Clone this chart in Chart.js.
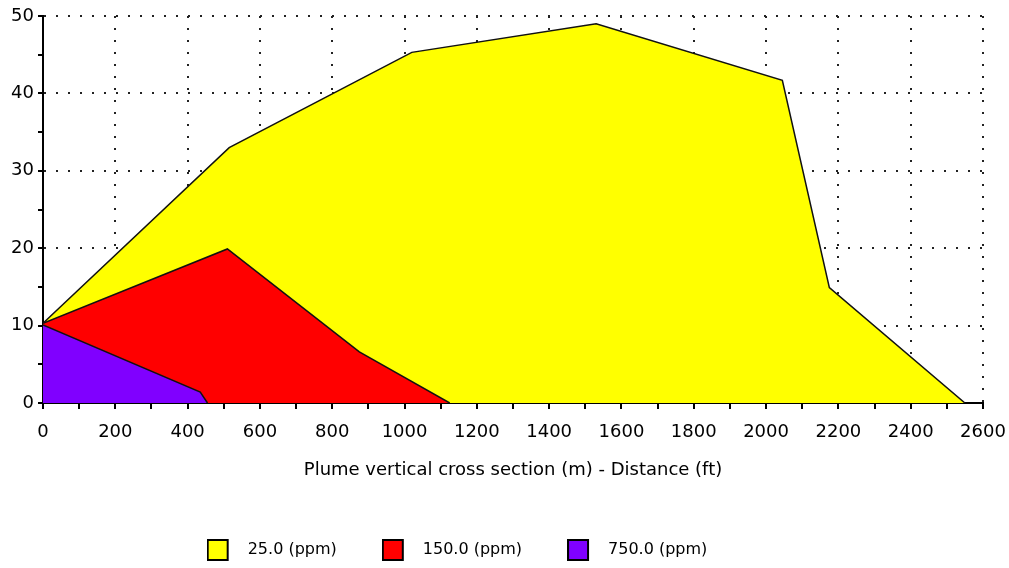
<!DOCTYPE html>
<html>
<head>
<meta charset="utf-8">
<title>Plume vertical cross section</title>
<script src="https://cdn.jsdelivr.net/npm/chart.js@4"></script>
<style>
  html, body { margin: 0; padding: 0; background: #fff; }
  #wrap { width: 1009px; height: 568px; }
</style>
</head>
<body>
<div id="wrap"><canvas id="myChart" width="1009" height="568"></canvas></div>
<script>
// concentration levels
const seriesNames = ["25.0 (ppm)", "150.0 (ppm)", "750.0 (ppm)"];
const seriesColors = ["#ffff00", "#ff0000", "#8000ff"];

// distance (ft) and height (m) of each contour outline
const dist25 = [0, 515, 1020, 1530, 2045, 2175, 2550];
const height25 = [10.3, 33.0, 45.3, 49.0, 41.7, 14.9, 0];

const dist150 = [0, 510, 875, 1125];
const height150 = [10.3, 19.9, 6.6, 0];

const dist750 = [0, 435, 455];
const height750 = [10.1, 1.4, 0];

const xTicks = [0, 2600, 100];
const yTicks = [0, 50, 5];

function toPoints(xs, ys) {
  return xs.map((x, i) => ({ x: x, y: ys[i] }));
}

function swatch(color) {
  const c = document.createElement("canvas");
  c.width = 33;
  c.height = 22;
  const g = c.getContext("2d");
  g.fillStyle = color;
  g.fillRect(1, 1, 20, 20);
  g.strokeStyle = "#000";
  g.lineWidth = 2;
  g.strokeRect(1, 1, 20, 20);
  return c;
}

function contour(i, xs, ys) {
  return {
    label: seriesNames[i],
    data: toPoints(xs, ys),
    backgroundColor: seriesColors[i],
    borderColor: "#111",
    borderWidth: 1.5,
    pointRadius: 0,
    tension: 0,
    fill: "origin"
  };
}

// the legend sits a bit left of centre in the original
const legendShift = {
  id: "legendShift",
  afterLayout(chart) {
    chart.legend.left -= 56;
    chart.legend.right -= 56;
  }
};

Chart.defaults.font.family = "'DejaVu Sans', sans-serif";
Chart.defaults.color = "#000";

// purple first so it is painted on top
const datasets = [
  contour(2, dist750, height750),
  contour(1, dist150, height150),
  contour(0, dist25, height25)
];

const dotted = "#222";

new Chart(document.getElementById("myChart"), {
  type: "line",
  data: { datasets: datasets },
  plugins: [legendShift],
  options: {
    responsive: false,
    animation: false,
    layout: { padding: { left: 0, right: 26, top: 16, bottom: 0 } },
    plugins: {
      tooltip: { enabled: false },
      legend: {
        position: "bottom",
        fullSize: false,
        labels: {
          usePointStyle: true,
          pointStyleWidth: 33,
          padding: 45,
          font: { size: 16 },
          generateLabels: () => seriesNames.map((name, i) => ({
            text: name,
            pointStyle: swatch(seriesColors[i]),
            fillStyle: seriesColors[i],
            strokeStyle: "#000",
            lineWidth: 0,
            hidden: false,
            datasetIndex: 2 - i
          }))
        }
      }
    },
    scales: {
      x: {
        type: "linear",
        min: xTicks[0],
        max: xTicks[1],
        afterFit: s => {
          s.height = 94;
          s.paddingLeft = 0;
          s.paddingRight = 0;
        },
        ticks: {
          stepSize: xTicks[2],
          autoSkip: false,
          maxRotation: 0,
          padding: 13,
          font: { size: 18 },
          callback: v => (v % 200 === 0 ? v : "")
        },
        grid: {
          color: c => (c.tick && c.tick.value % 200 === 0 ? dotted : "transparent"),
          lineWidth: 2,
          tickColor: "#000",
          tickWidth: 2,
          tickLength: 6,
          tickBorderDash: []
        },
        border: { color: "#000", width: 2, dash: [2, 10] },
        title: {
          display: true,
          text: "Plume vertical cross section (m) - Distance (ft)",
          font: { size: 18 },
          padding: { top: 0, bottom: 16 }
        }
      },
      y: {
        min: yTicks[0],
        max: yTicks[1],
        afterFit: s => { s.width = 43; },
        ticks: {
          stepSize: yTicks[2],
          padding: 4,
          font: { size: 18 },
          callback: v => (v % 10 === 0 ? v : "")
        },
        grid: {
          color: c => (c.tick && c.tick.value % 10 === 0 ? dotted : "transparent"),
          lineWidth: 2,
          tickColor: "#000",
          tickWidth: 2,
          tickLength: 5,
          tickBorderDash: []
        },
        border: { color: "#000", width: 2, dash: [2, 10] }
      }
    }
  }
});
</script>
</body>
</html>
